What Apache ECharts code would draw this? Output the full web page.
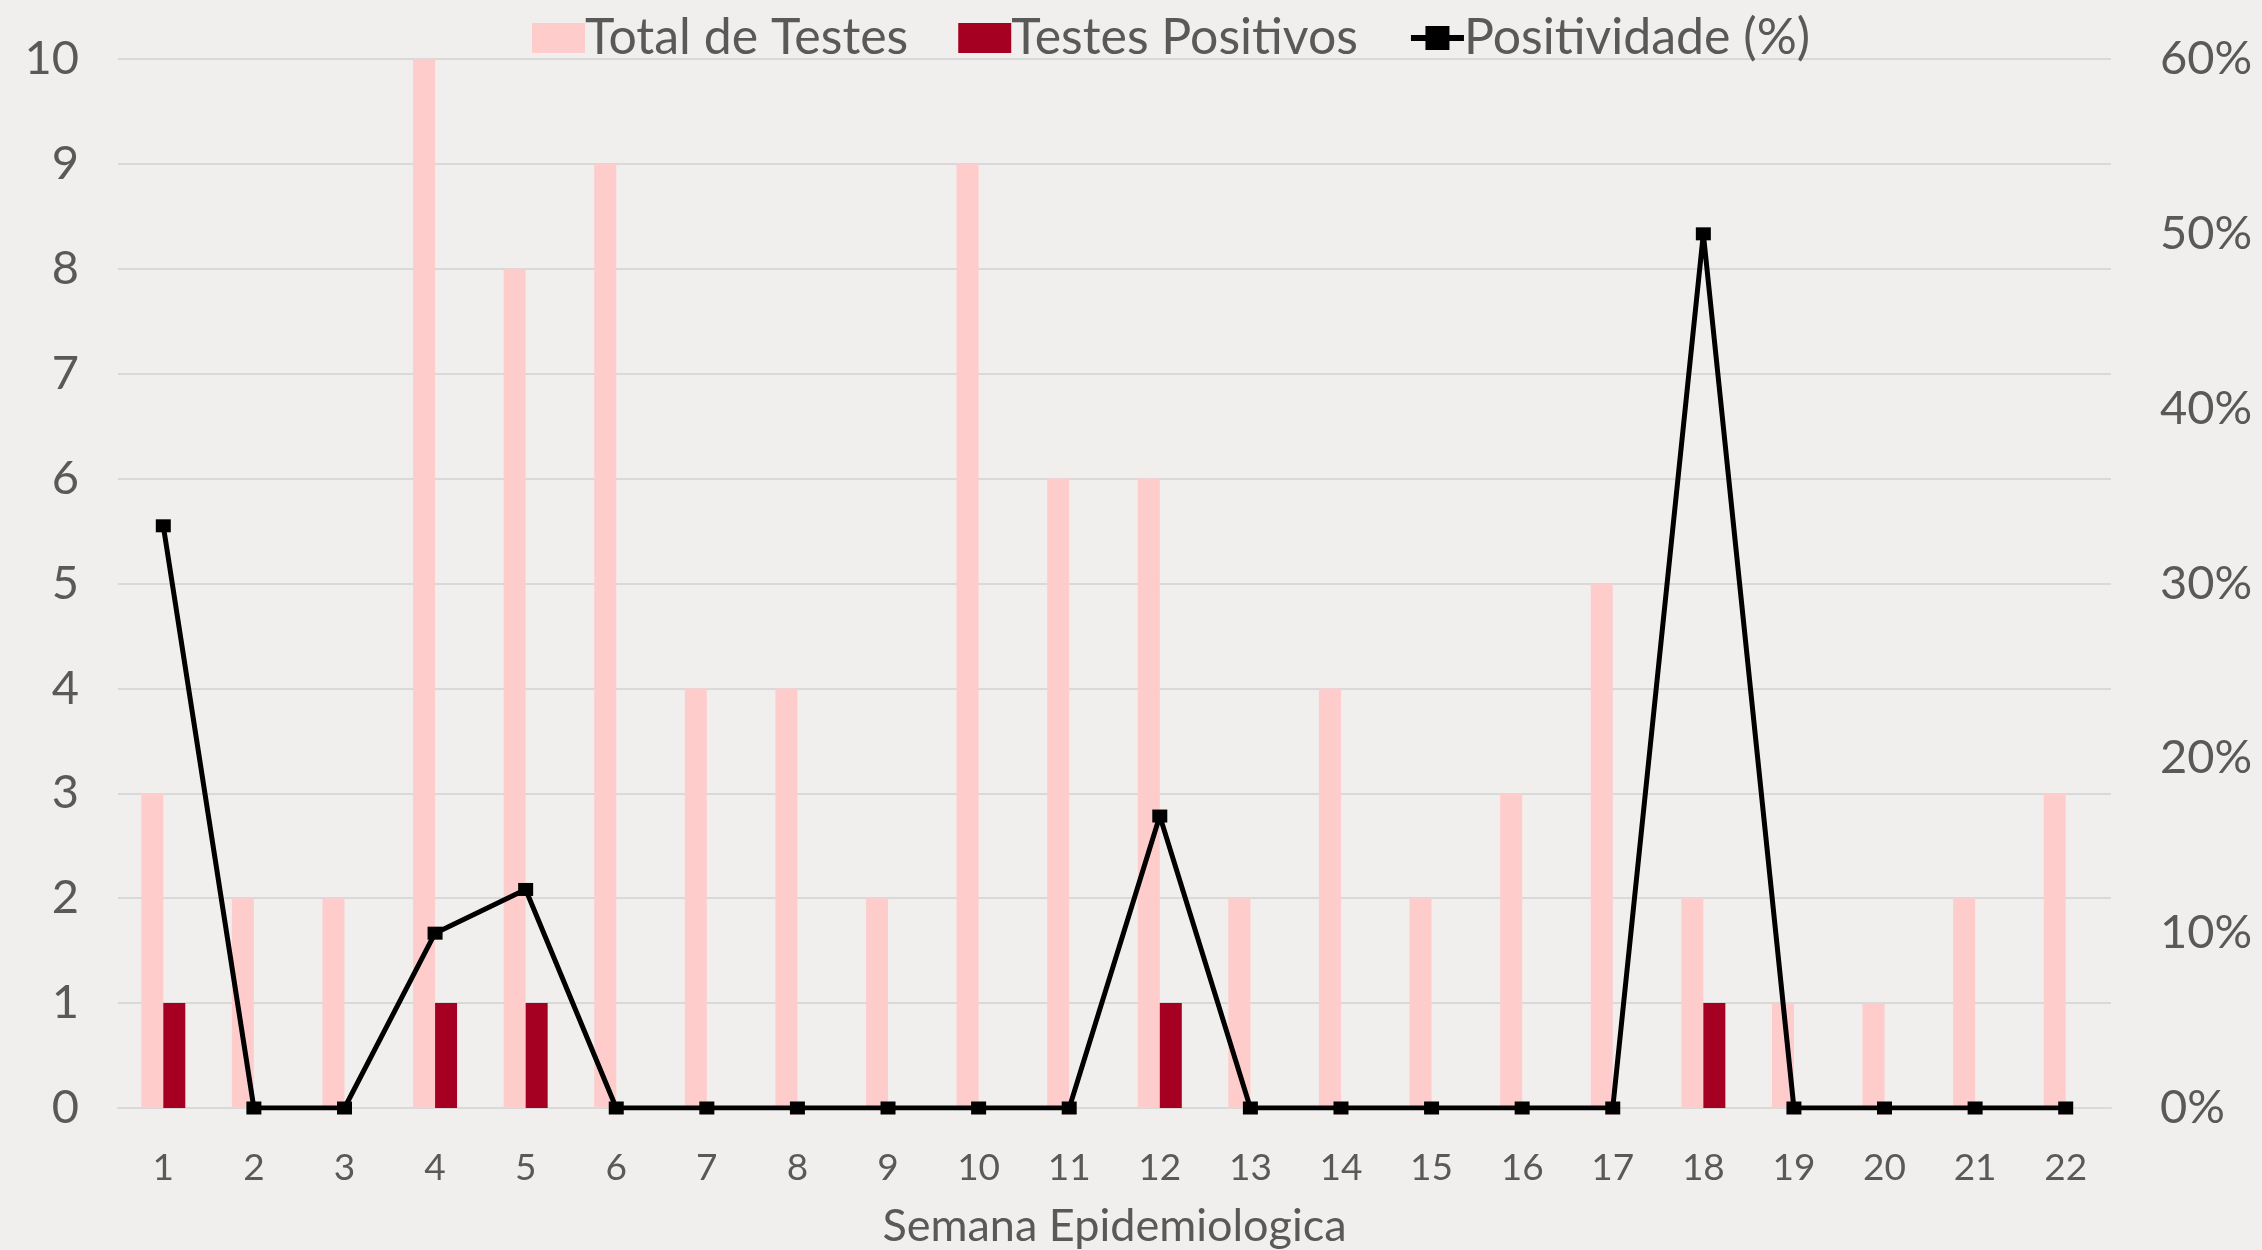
<!DOCTYPE html>
<html>
<head>
<meta charset="utf-8">
<script src="https://cdn.jsdelivr.net/npm/echarts@6/dist/echarts.min.js"></script>
<style>
html,body{margin:0;padding:0;background:#f0efed;}
#c{width:2262px;height:1250px;}
</style>
</head>
<body>
<div id="c"></div>
<script>
const weeks = ['1','2','3','4','5','6','7','8','9','10','11','12','13','14','15','16','17','18','19','20','21','22'];
const totalTests = [3,2,2,10,8,9,4,4,2,9,6,6,2,4,2,3,5,2,1,1,2,3];
const positiveTests = [1,0,0,1,1,0,0,0,0,0,0,1,0,0,0,0,0,1,0,0,0,0];
const positivity = [33.3,0,0,10,12.5,0,0,0,0,0,0,16.7,0,0,0,0,0,50,0,0,0,0];
const leftTicks = {min:0, max:10, interval:1};
const rightTicks = {min:0, max:60, interval:10};

const FONT = 'Lato';
const TXT = '#595959';
const chart = echarts.init(document.getElementById('c'));
chart.setOption({
  backgroundColor: '#f0efed',
  animation: false,
  textStyle: {fontFamily: FONT},
  legend: {
    left: 527, top: 8,
    itemWidth: 53, itemHeight: 30, itemGap: 50,
    textStyle: {fontFamily: FONT, fontSize: 50, color: TXT, padding: [0,0,0,-5]},
    data: [
      {name: 'Total de Testes', icon: 'rect'},
      {name: 'Testes Positivos', icon: 'rect'},
      {name: 'Positividade (%)', lineStyle: {width: 6}}
    ]
  },
  grid: {left: 118, right: 151, top: 59, bottom: 142, outerBoundsMode: 'none', containLabel: false},
  xAxis: {
    type: 'category',
    data: weeks,
    name: 'Semana Epidemiologica',
    nameLocation: 'middle',
    nameGap: 96,
    nameTextStyle: {fontFamily: FONT, fontSize: 45, color: TXT},
    axisLine: {lineStyle: {color: '#d9d9d9', width: 2}},
    axisTick: {show: false},
    axisLabel: {fontFamily: FONT, fontSize: 37, color: TXT, margin: 42}
  },
  yAxis: [
    {
      type: 'value', min: leftTicks.min, max: leftTicks.max, interval: leftTicks.interval,
      axisLine: {show: false}, axisTick: {show: false},
      axisLabel: {fontFamily: FONT, fontSize: 47, color: TXT, margin: 39},
      splitLine: {lineStyle: {color: '#d9d9d9', width: 2}}
    },
    {
      type: 'value', min: rightTicks.min, max: rightTicks.max, interval: rightTicks.interval,
      axisLine: {show: false}, axisTick: {show: false},
      axisLabel: {fontFamily: FONT, fontSize: 47, color: TXT, margin: 49, formatter: '{value}%'},
      splitLine: {show: false}
    }
  ],
  series: [
    {
      name: 'Total de Testes', type: 'bar', data: totalTests,
      barWidth: 22, barGap: '0%',
      itemStyle: {color: '#ffcccc'}
    },
    {
      name: 'Testes Positivos', type: 'bar', data: positiveTests,
      barWidth: 22, barGap: '0%',
      itemStyle: {color: '#a50021'}
    },
    {
      name: 'Positividade (%)', type: 'line', yAxisIndex: 1, data: positivity,
      symbol: 'rect', symbolSize: [15, 13],
      lineStyle: {color: '#000', width: 5},
      itemStyle: {color: '#000'},
      z: 10
    }
  ]
});
</script>
</body>
</html>
